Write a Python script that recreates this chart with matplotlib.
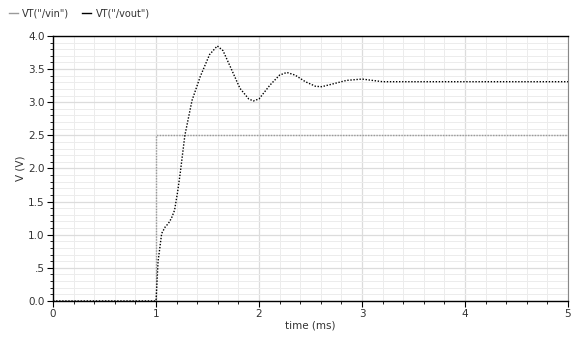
import matplotlib.pyplot as plt
import numpy as np
from matplotlib.ticker import MultipleLocator, FuncFormatter
from matplotlib.lines import Line2D

#==== data ====
t_in = [0.0, 1.0, 1.0, 5.0]
v_in = [0.0, 0.0, 2.5, 2.5]

t_out = [0.0, 0.5, 1.0, 1.02, 1.055, 1.09, 1.12, 1.15, 1.18, 1.21, 1.235, 1.28, 1.35, 1.43,
         1.52, 1.595, 1.65, 1.72, 1.815, 1.9, 1.945, 2.0, 2.107, 2.2, 2.27, 2.35, 2.45,
         2.55, 2.61, 2.7, 2.85, 3.0, 3.2, 3.5, 4.0, 4.5, 5.0]
v_out = [0.0, 0.0, 0.0, 0.6, 1.02, 1.12, 1.17, 1.25, 1.37, 1.65, 1.93, 2.5, 3.03, 3.39,
         3.72, 3.85, 3.78, 3.54, 3.21, 3.05, 3.02, 3.05, 3.26, 3.41, 3.45, 3.41, 3.31,
         3.24, 3.235, 3.27, 3.33, 3.35, 3.31, 3.31, 3.31, 3.31, 3.31]

fig = plt.figure(figsize=(5.72, 3.38), dpi=100)
ax = fig.add_axes([0.0927, 0.1095, 0.9003, 0.784])

ax.plot(t_in, v_in, color='#9a9a9a', lw=1.0, ls=(0, (1, 1)))
ax.plot(t_out, v_out, color='black', lw=1.0, ls=(0, (1, 1.2)))

ax.set_xlim(0, 5)
ax.set_ylim(0, 4.0)
ax.xaxis.set_major_locator(MultipleLocator(1))
ax.xaxis.set_minor_locator(MultipleLocator(0.2))
ax.yaxis.set_major_locator(MultipleLocator(0.5))
ax.yaxis.set_minor_locator(MultipleLocator(0.1))
ax.yaxis.set_major_formatter(FuncFormatter(lambda v, p: '.5' if abs(v - 0.5) < 1e-9 else '%.1f' % v))

ax.grid(which='major', color='#dcdcdc', lw=0.9)
ax.grid(which='minor', color='#ececec', lw=0.7)
ax.set_axisbelow(True)

ax.tick_params(which='major', length=4, width=0.8, labelsize=7.5, labelcolor='#333333', pad=2)
ax.tick_params(which='minor', length=2, width=0.6)
for s in ['left', 'bottom', 'top']:
    ax.spines[s].set_color('black')
    ax.spines[s].set_linewidth(1.0)
ax.spines['right'].set_color('#888888')
ax.spines['right'].set_linewidth(0.8)

ax.set_xlabel('time (ms)', fontsize=7.5, color='#333333', labelpad=1)
ax.set_ylabel('V (V)', fontsize=7.5, color='#333333', labelpad=2)

handles = [Line2D([], [], color='#9a9a9a', lw=1.0),
           Line2D([], [], color='black', lw=1.0)]
fig.legend(handles, ['VT("/vin")', 'VT("/vout")'], loc='upper left',
           bbox_to_anchor=(0.0, 1.0), ncol=2, frameon=False, fontsize=7,
           handlelength=0.9, handletextpad=0.5, columnspacing=1.3,
           labelcolor='#333333')

fig.savefig('out.png', dpi=100)
